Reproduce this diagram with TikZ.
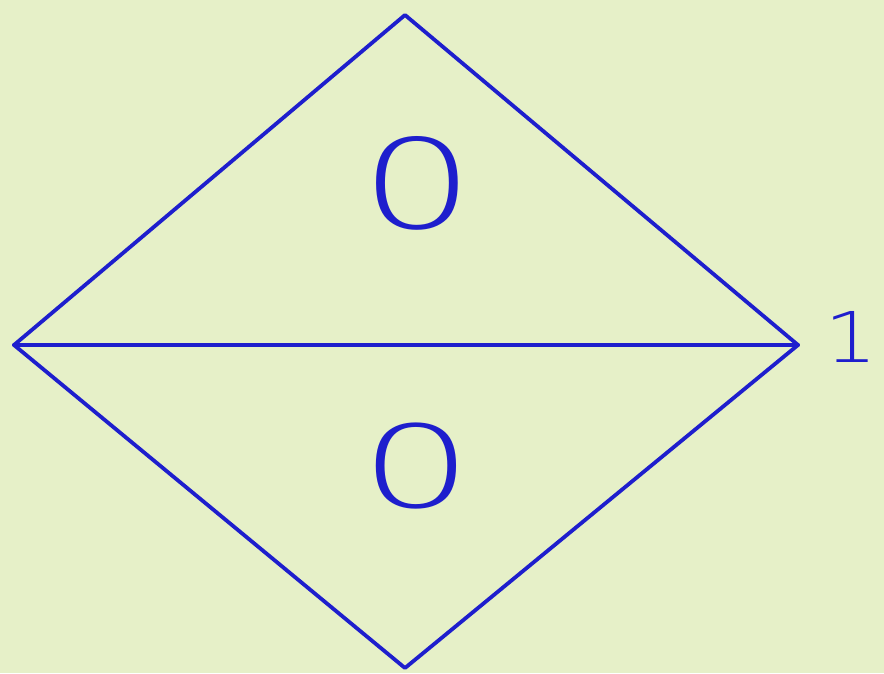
\documentclass[tikz,border=0pt]{standalone}
\usepackage{fontspec}
\newfontfamily\handfont{DejaVu Sans ExtraLight}
\definecolor{bgc}{RGB}{230,240,200}
\definecolor{ink}{RGB}{30,30,205}
\begin{document}
\begin{tikzpicture}[x=1pt,y=-1pt,
  edge/.style={draw=ink,line width=3.8pt,line join=round,line cap=round},
  digit/.style={text=ink,inner sep=0pt,font=\handfont\fontsize{#1}{#1}\selectfont}]
\fill[bgc] (0,0) rectangle (884,673);
\useasboundingbox (0,0) rectangle (884,673);
\coordinate (T) at (405,15);
\coordinate (L) at (14,345);
\coordinate (R) at (798,345);
\coordinate (B) at (405,668);
\draw[edge] (T) -- (R) -- (B) -- (L) -- cycle;
\draw[edge] (L) -- (R);
\node[digit=124, xscale=1.45] (z1) at (418,183) {0};
\node[digit=114, xscale=1.55] (z2) at (417,466) {0};
\node[digit=70, xscale=1.2] (one) at (851,337) {1};
\end{tikzpicture}
\end{document}
